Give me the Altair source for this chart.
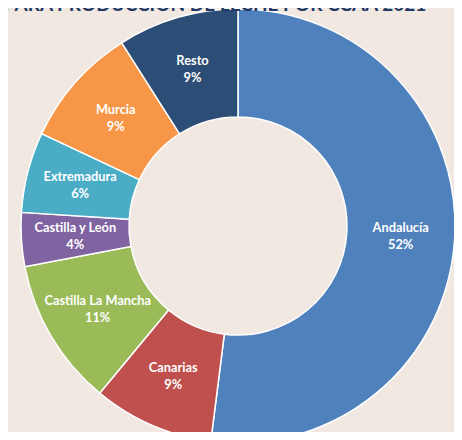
import altair as alt
import pandas as pd

regions = ["Andalucía", "Canarias", "Castilla La Mancha", "Castilla y León",
           "Extremadura", "Murcia", "Resto"]
pct = [52, 9, 11, 4, 6, 9, 9]
colors = ["#4F81BD", "#C0504D", "#9BBB59", "#8064A2", "#4BACC6", "#F79646", "#2C4D75"]
title_text = "PARA PRODUCCIÓN DE LECHE POR CCAA 2021"

df = pd.DataFrame({
    "region": regions,
    "pct": pct,
    "order": list(range(len(regions))),
    "label": [f"{r}\n{p}%" for r, p in zip(regions, pct)],
})

CX, CY = 230, 218

base = alt.Chart(df).encode(
    theta=alt.Theta("pct:Q", stack=True),
    order=alt.Order("order:Q"),
)

arcs = base.mark_arc(outerRadius=217, innerRadius=109, stroke="white", strokeWidth=1.5).encode(
    color=alt.Color("region:N", scale=alt.Scale(domain=regions, range=colors), legend=None),
    x=alt.value(CX), y=alt.value(CY),
)

labels = base.mark_text(
    radius=163, lineBreak="\n", font="Lato", fontWeight="bold", fontSize=12.8,
    lineHeight=17, color="white", align="center", baseline="middle", dy=-8,
).encode(text="label:N", x=alt.value(CX), y=alt.value(CY))

title = alt.Chart(pd.DataFrame({"t": [title_text]})).mark_text(
    font="Lato", fontWeight="bold", fontSize=19, color="#1F3864",
    align="center", baseline="alphabetic",
).encode(text="t:N", x=alt.value(207), y=alt.value(3))

chart = alt.layer(arcs, labels, title).properties(
    width=446, height=424,
    autosize=alt.AutoSizeParams(type="none"),
    padding=0,
    background="#F0E8E1",
).configure_view(stroke=None)

chart.save("out.html", embed_options={"renderer": "svg", "actions": False})
